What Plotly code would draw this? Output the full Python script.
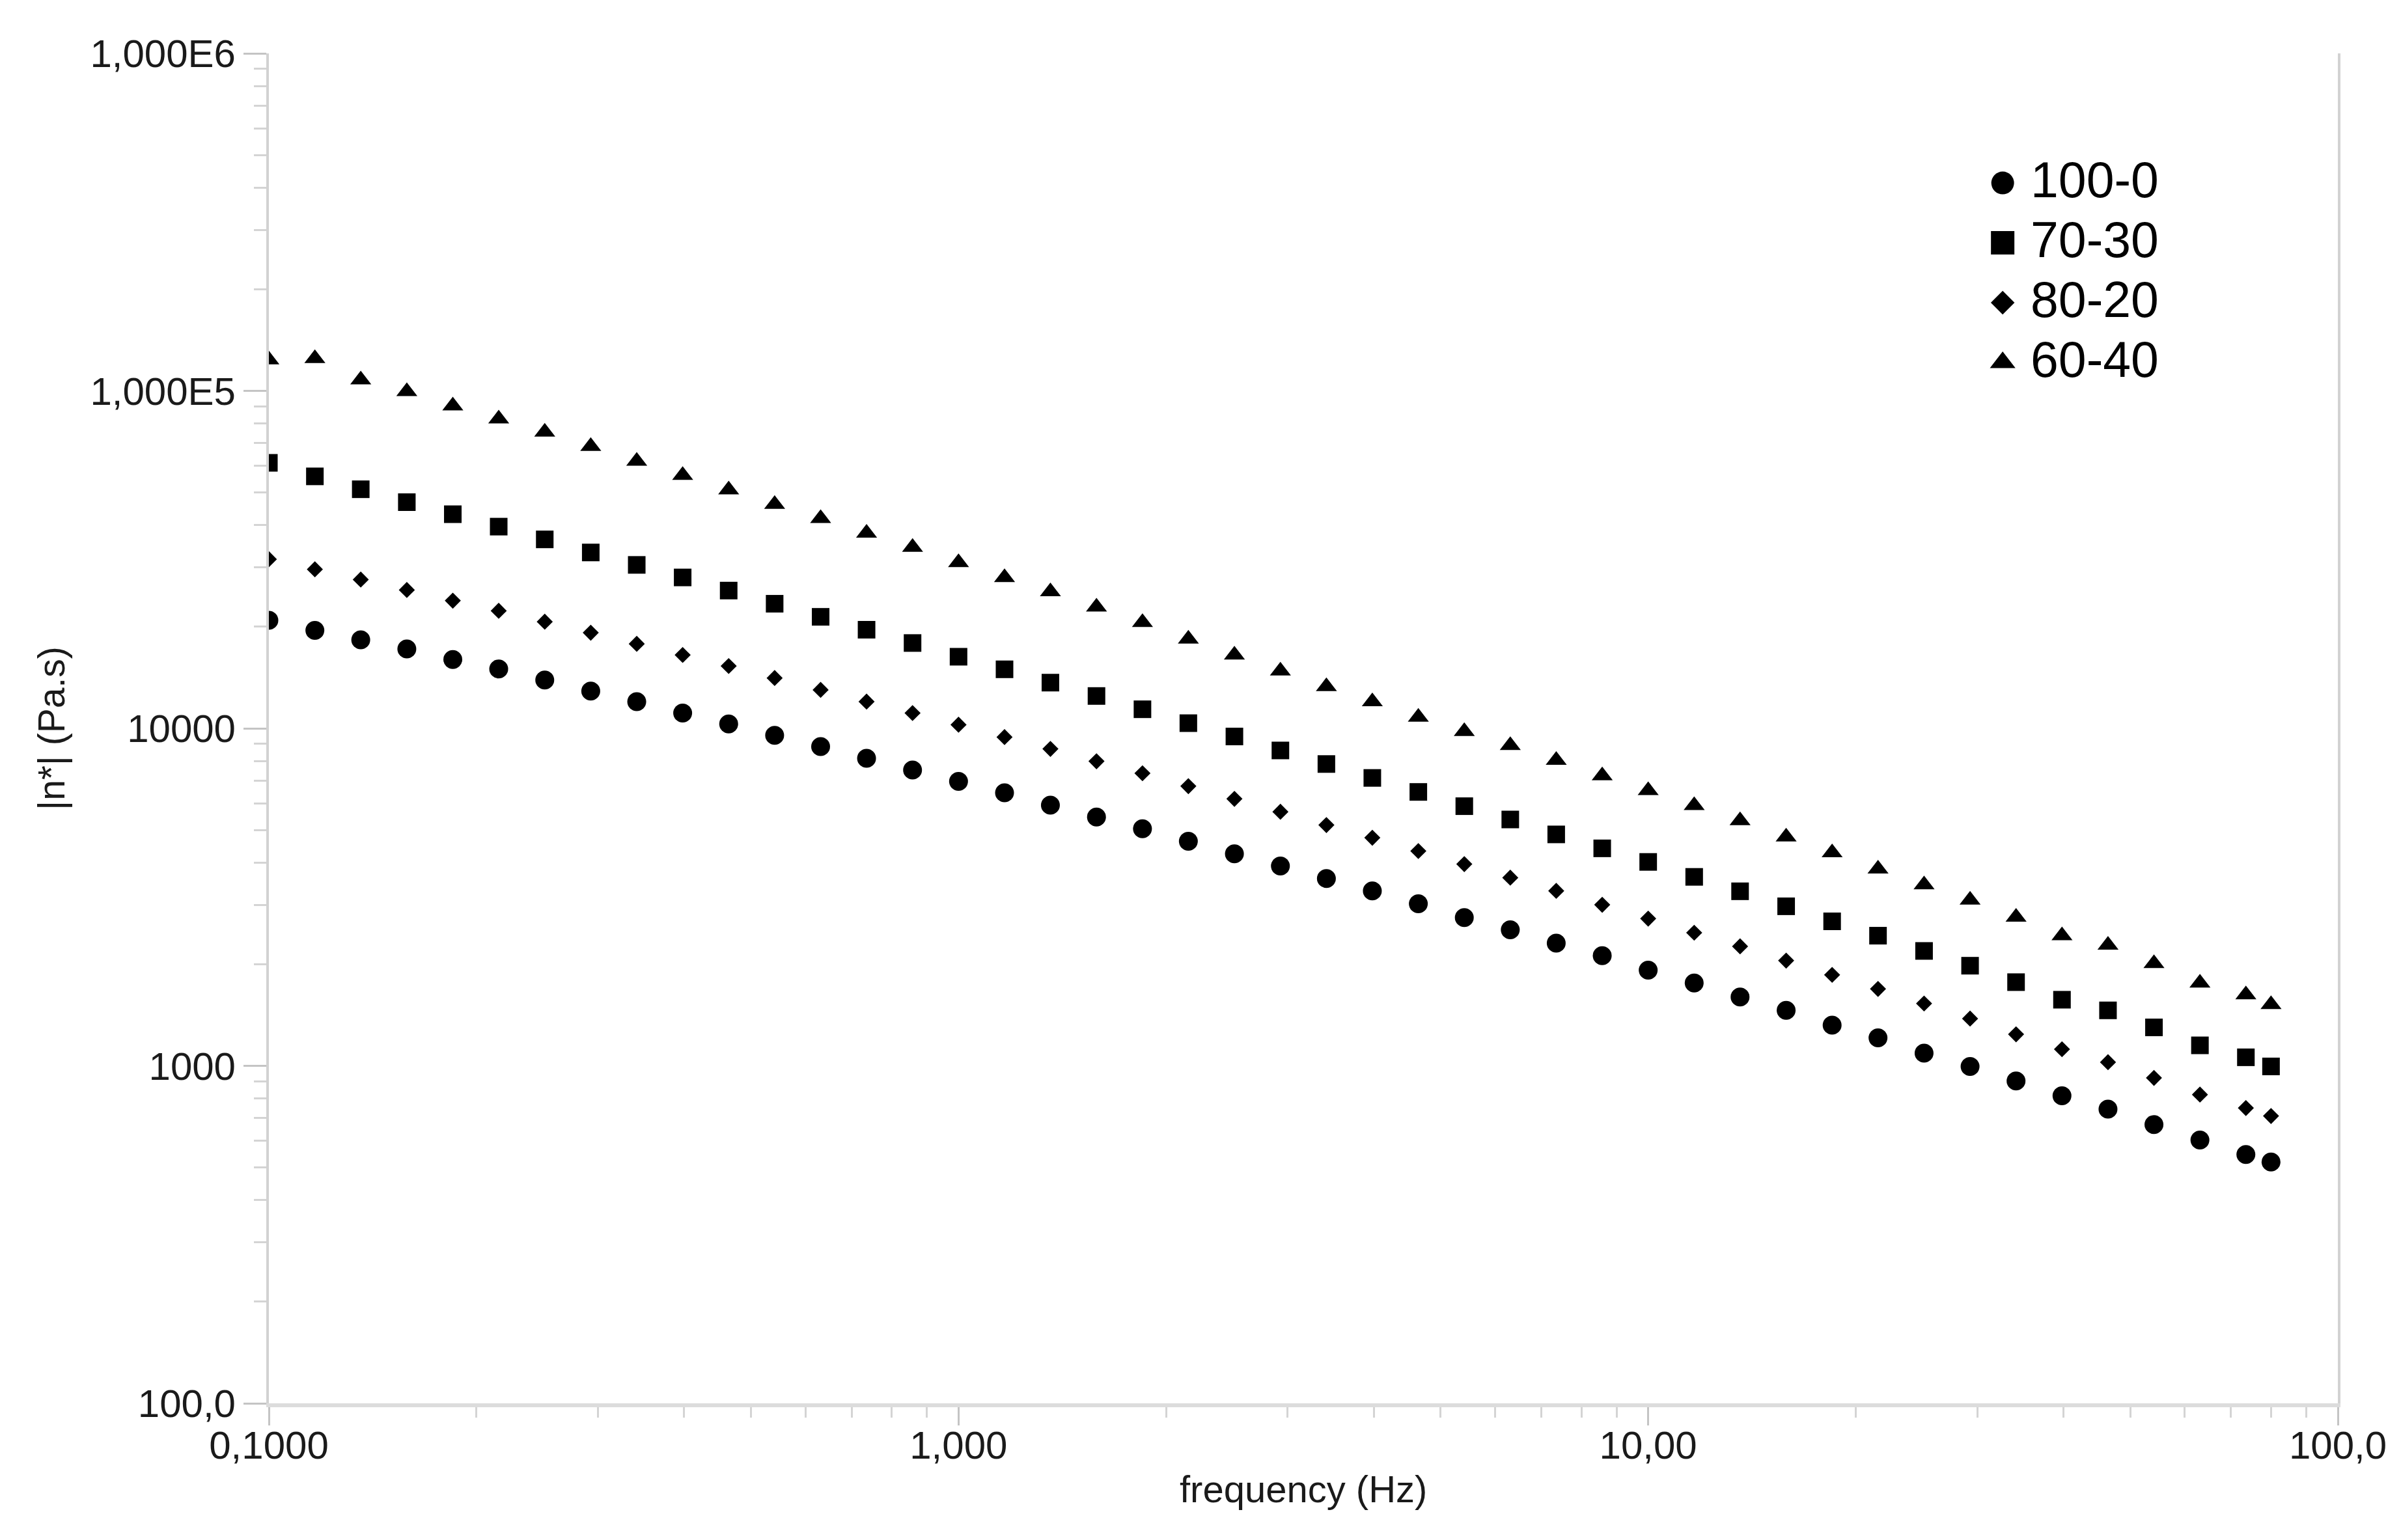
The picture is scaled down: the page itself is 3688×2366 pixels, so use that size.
import plotly.graph_objects as go

# ---------------- data ----------------
freq_hz = [0.1, 0.1166, 0.1359, 0.1585, 0.1848, 0.2154, 0.2512, 0.2929, 0.3415, 0.3981,
           0.4642, 0.5412, 0.631, 0.7356, 0.8577, 1.0, 1.166, 1.359, 1.585, 1.848,
           2.154, 2.512, 2.929, 3.415, 3.981, 4.642, 5.412, 6.31, 7.356, 8.577,
           10.0, 11.66, 13.59, 15.85, 18.48, 21.54, 25.12, 29.29, 34.15, 39.81,
           46.42, 54.12, 63.1, 73.56, 80.0]

eta_100_0 = [20900, 19500, 18300, 17200, 16000, 15000, 13900, 12900, 12000, 11100,
             10300, 9530, 8830, 8150, 7530, 6960, 6440, 5920, 5460, 5040,
             4630, 4250, 3910, 3590, 3300, 3020, 2750, 2530, 2310, 2120,
             1920, 1760, 1600, 1460, 1320, 1210, 1090, 996, 902, 815,
             744, 670, 603, 546, 519]

eta_70_30 = [61200, 55800, 51100, 46800, 43100, 39600, 36300, 33200, 30500, 28000,
             25600, 23400, 21400, 19600, 17900, 16300, 14960, 13660, 12470, 11390,
             10360, 9460, 8600, 7840, 7130, 6480, 5880, 5370, 4850, 4410,
             4020, 3630, 3290, 2970, 2680, 2430, 2190, 1980, 1770, 1570,
             1460, 1300, 1150, 1060, 996]

eta_80_20 = [31700, 29600, 27600, 25700, 23900, 22300, 20700, 19200, 17800, 16500,
             15300, 14100, 13000, 12000, 11100, 10250, 9420, 8690, 7990, 7360,
             6740, 6180, 5660, 5170, 4740, 4330, 3960, 3610, 3300, 3000,
             2730, 2480, 2260, 2050, 1860, 1690, 1530, 1380, 1240, 1120,
             1025, 921, 822, 750, 710]

eta_60_40 = [123600, 124700, 107900, 99600, 90300, 82600, 75500, 68500, 61900, 56200,
             50900, 46100, 41900, 37900, 34400, 31000, 28000, 25400, 22900, 20600,
             18400, 16500, 14800, 13300, 12000, 10800, 9790, 8900, 8040, 7240,
             6540, 5910, 5330, 4770, 4280, 3830, 3440, 3100, 2760, 2430,
             2280, 2010, 1760, 1625, 1520]

series_names = ["100-0", "70-30", "80-20", "60-40"]
series_values = [eta_100_0, eta_70_30, eta_80_20, eta_60_40]

x_tickvals = [0.1, 1, 10, 100]
x_ticktext = ["0,1000", "1,000", "10,00", "100,0"]
y_tickvals = [100, 1000, 10000, 100000, 1000000]
y_ticktext = ["100,0", "1000", "10000", "1,000E5", "1,000E6"]

# ---------------- styling ----------------
FONT = "Liberation Sans, Arial, Helvetica, sans-serif"
TEXT = "#1a1a1a"
AXIS = "#d2d2d2"
TICK = "#c4c4c4"

symbols = ["circle", "square", "diamond", "triangle-up"]
data_sizes = [29, 27, 19, 28]
legend_sizes = [35, 36, 28, 34]

minor_x = [m * 10 ** e for e in range(-1, 2) for m in range(2, 10)]
minor_y = [m * 10 ** e for e in range(2, 6) for m in range(2, 10)]

fig = go.Figure()

for name, vals, sym, sz in zip(series_names, series_values, symbols, data_sizes):
    fig.add_trace(go.Scatter(x=freq_hz, y=vals, mode="markers", name=name,
                             marker=dict(symbol=sym, size=sz, color="black", line=dict(width=0)),
                             showlegend=False))

# manual legend (large symbols) on an overlay axis spanning the plot area
leg_x = 0.838
leg_text_x = 0.851
leg_rows = [0.9040, 0.8597, 0.8153, 0.7710]
for name, sym, sz, yy in zip(series_names, symbols, legend_sizes, leg_rows):
    fig.add_trace(go.Scatter(x=[leg_x], y=[yy], mode="markers", xaxis="x2", yaxis="y2",
                             marker=dict(symbol=sym, size=sz, color="black", line=dict(width=0)),
                             showlegend=False, hoverinfo="skip"))
    fig.add_annotation(x=leg_text_x, y=yy, xref="x2", yref="y2", text=name,
                       showarrow=False, xanchor="left", yanchor="middle", yshift=5,
                       font=dict(family=FONT, size=77, color="black"))

# x-axis title placed just below the tick labels
fig.add_annotation(x=0.5, y=0, xref="paper", yref="paper", text="frequency (Hz)",
                   showarrow=False, xanchor="center", yanchor="middle", yshift=-131,
                   font=dict(family=FONT, size=58, color=TEXT))

fig.update_layout(
    width=3688, height=2366,
    margin=dict(l=405, r=105, t=74, b=218, autoexpand=False),
    paper_bgcolor="white", plot_bgcolor="white",
    showlegend=False,
    font=dict(family=FONT, color=TEXT, size=60),
    xaxis=dict(
        type="log", range=[-1, 2], showgrid=False, zeroline=False,
        showline=True, linecolor="#dcdcdc", linewidth=6,
        ticks="outside", ticklen=28, tickwidth=3, tickcolor=TICK,
        tickvals=x_tickvals, ticktext=x_ticktext,
        ticklabelstandoff=-21,
        tickfont=dict(family=FONT, size=60, color=TEXT),
        minor=dict(tickvals=minor_x, ticks="outside", ticklen=16, tickwidth=3,
                   tickcolor="#d4d4d4", showgrid=False),
    ),
    yaxis=dict(
        type="log", range=[2, 6], showgrid=False, zeroline=False,
        showline=True, linecolor=AXIS, linewidth=4, mirror=True,
        ticks="outside", ticklen=35, tickwidth=3, tickcolor=TICK,
        tickvals=y_tickvals, ticktext=y_ticktext,
        tickfont=dict(family=FONT, size=60, color=TEXT),
        minor=dict(tickvals=minor_y, ticks="outside", ticklen=19, tickwidth=3,
                   tickcolor="#d4d4d4", showgrid=False),
        title=dict(text="|n*| (Pa.s)", font=dict(family=FONT, size=57, color=TEXT),
                   standoff=22),
    ),
    xaxis2=dict(domain=[0, 1], range=[0, 1], overlaying="x", anchor="y2",
                visible=False, fixedrange=True),
    yaxis2=dict(domain=[0, 1], range=[0, 1], overlaying="y", anchor="x2",
                visible=False, fixedrange=True),
)

fig.write_html("out.html")
